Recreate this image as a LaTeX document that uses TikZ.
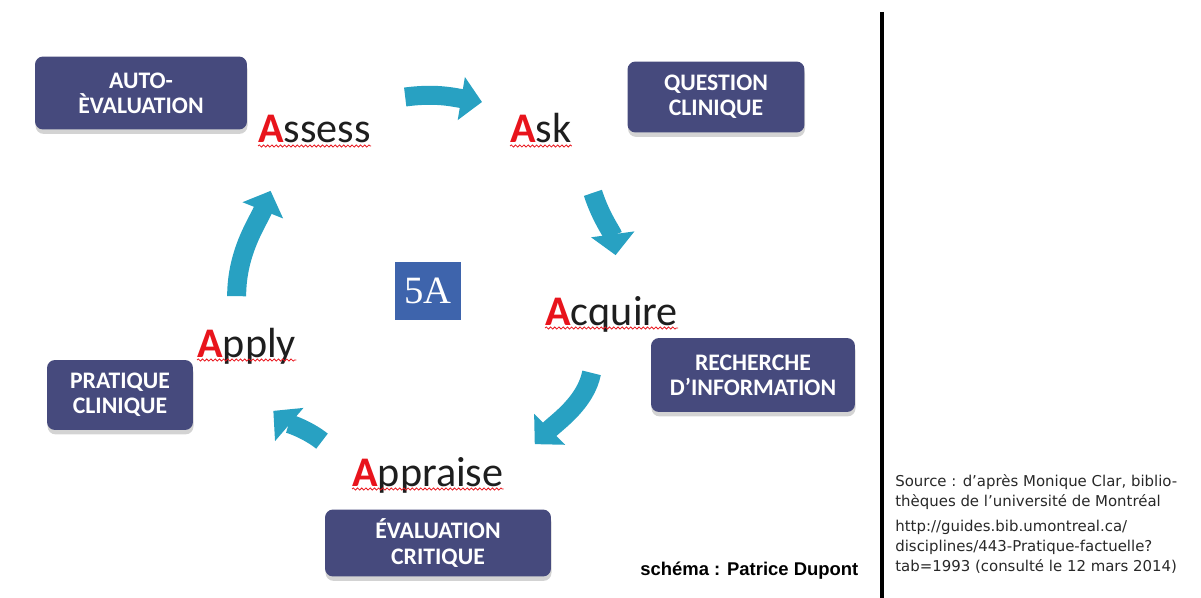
\documentclass[tikz,border=0pt]{standalone}
\usepackage{fontspec}
\setmainfont{Carlito}
\newfontfamily\srcfont{DejaVu Sans}
\newfontfamily\creditfont{Liberation Sans}
\newfontfamily\fivefont{Liberation Serif}
\usetikzlibrary{positioning,shadows,arrows.meta,decorations.pathmorphing}
\definecolor{boxblue}{RGB}{70,74,125}
\definecolor{flowteal}{RGB}{40,161,194}
\definecolor{fiveblue}{RGB}{62,100,172}
\definecolor{capred}{RGB}{232,20,28}
\definecolor{wordgray}{RGB}{30,30,30}
\definecolor{srcgray}{RGB}{40,40,40}
\tikzstyle{box} = [rectangle, fill=boxblue, text=white, align=center,
    rounded corners=0.16cm, font=\fontsize{13.5}{14.4}\selectfont\bfseries,
    drop shadow={shadow xshift=0.3pt, shadow yshift=-2.5pt, opacity=0.35}]
\tikzstyle{word} = [inner sep=0pt, anchor=base west, text height=0.55cm,
    text depth=0.15cm, text=wordgray, font=\fontsize{24}{26}\selectfont]
\tikzstyle{squiggle} = [draw=capred, line width=0.45pt, decorate,
    decoration={snake, amplitude=0.6pt, segment length=2.4pt}]
\tikzstyle{flow} = [draw=flowteal, line width=0.38cm,
    -{Triangle[length=0.42cm, width=0.85cm]}]
\tikzstyle{srctext} = [inner sep=0pt, align=left, text=srcgray,
    font=\srcfont\fontsize{8.5}{11.4}\selectfont]
\newcommand{\capA}{\textcolor{capred}{\textbf{A}}}

\begin{document}
\begin{tikzpicture}[x=0.02cm, y=-0.02cm]
    \useasboundingbox (0,0) rectangle (1201,598);
    % Place nodes
    \node [box, minimum width=4.24cm, minimum height=1.46cm] (autoeval) at (141,93) {AUTO-\\ÈVALUATION};
    \node [box, minimum width=3.54cm, minimum height=1.42cm] (question) at (716,97) {QUESTION\\CLINIQUE};
    \node [box, minimum width=4.08cm, minimum height=1.48cm] (recherche) at (753,375) {RECHERCHE\\D’INFORMATION};
    \node [box, minimum width=4.52cm, minimum height=1.34cm] (critique) at (438,543) {ÉVALUATION\\CRITIQUE};
    \node [box, minimum width=2.92cm, minimum height=1.40cm] (pratique) at (120,395) {PRATIQUE\\CLINIQUE};

    \node [word] (assess) at (258,143) {\capA ssess};
    \node [word] (ask) at (510,143) {\capA sk};
    \node [word] (acquire) at (545,325) {\capA cquire};
    \node [word] (appraise) at (352,486) {\capA ppraise};
    \node [word] (apply) at (197,357) {\capA pply};

    \node [fill=fiveblue, text=white, minimum width=1.34cm, minimum height=1.16cm,
        font=\fivefont\fontsize{22}{24}\selectfont] (five) at (428,291) {5A};

    \node [srctext, anchor=north west] (source) at (895,474)
        {Source : d’après Monique Clar, biblio-\\thèques de l’université de Montréal};
    \node [srctext, below=0.2cm of source.south west, anchor=north west] (url)
        {http://guides.bib.umontreal.ca/\\disciplines/443-Pratique-factuelle?\\tab=1993 (consulté le 12 mars 2014)};
    \node [anchor=base west, inner sep=0pt, font=\creditfont\fontsize{10.5}{12}\selectfont\bfseries]
        (credit) at (640,575) {schéma : Patrice Dupont};

    \draw [line width=2.5pt] (882,12) -- (882,598);

    % Draw edges
    \foreach \w in {assess,ask,acquire,appraise,apply}
        \draw [squiggle] ([shift={(0,3)}]\w.base west) -- ([shift={(0,3)}]\w.base east);
    \path [flow] ([shift={(34,-36)}]assess.east) .. controls +(30,-4) and +(-30,-5) .. ([shift={(-28,-31)}]ask.west);
    \path [flow] ([shift={(21,42)}]ask.south east) .. controls +(8,25) and +(-3,-22) .. ([shift={(4,-42)}]acquire.north);
    \path [flow] ([shift={(-20,40)}]acquire.south) .. controls +(-6,30) and +(22,-22) .. ([shift={(31,-14)}]appraise.north east);
    \path [flow] ([shift={(-30,-17)}]appraise.north west) .. controls +(-15,-12) and +(14,12) .. ([shift={(-23,46)}]apply.south east);
    \path [flow] ([shift={(-10,-33)}]apply.north) .. controls +(0,-45) and +(-12,30) .. ([shift={(-44,40)}]assess.south);
\end{tikzpicture}
\end{document}
